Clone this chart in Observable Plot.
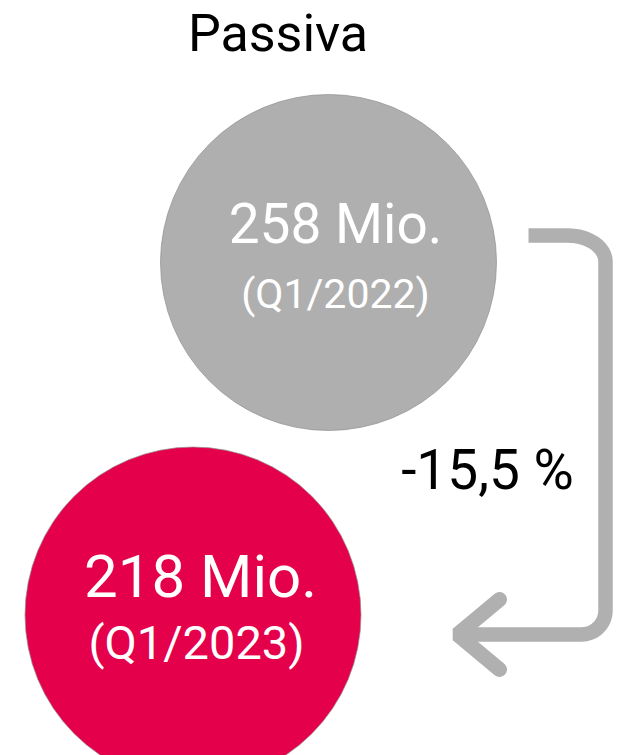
<!DOCTYPE html>
<html>
<head>
<meta charset="utf-8">
<script src="https://cdn.jsdelivr.net/npm/d3@7"></script>
<script src="https://cdn.jsdelivr.net/npm/@observablehq/plot@0.6"></script>
<style>
  html, body { margin: 0; padding: 0; background: #ffffff; }
  #chart svg { display: block; }
</style>
</head>
<body>
<div id="chart"></div>
<script>
// ---- data ----
const title = "Passiva";
const periods = ["Q1/2022", "Q1/2023"];
const values = [258, 218];
const unit = "Mio.";
const changeLabel = "-15,5 %";

// ---- styles ----
const fills = ["#afafaf", "#e5004b"];
const arrowColor = "#b0b0b0";

// ---- layout (page coordinates) ----
const circleX = [328, 192.5];
const circleY = [262, 614.5];
const circleR = 168;
const valueX = [335, 200];
const periodX = [335, 196];
const valueBaseline = [242, 596];
const valueSize = [55, 60];
const valueSpacing = [-0.7, -1.5];
const periodBaseline = [307, 658];
const periodSize = [41, 47];
const periodSpacing = [-0.6, -0.6];

const rows = periods.map((p, i) => ({
  period: p, value: values[i], fill: fills[i],
  cx: circleX[i], cy: circleY[i], vx: valueX[i], px: periodX[i]
}));

// arrow geometry: from right of the first circle, down, into the second
const arrow = {x0: 528, y0: 235, xv: 605, y1: 634, xTip: 457, rx1: 38, ry1: 26, r2: 24, armDx: 42, armDy: 35};
function quarter(cx, cy, rx, ry, a0, a1, n = 14) {
  const pts = [];
  for (let k = 0; k <= n; k++) {
    const a = a0 + (a1 - a0) * k / n;
    pts.push({x: cx + rx * Math.cos(a), y: cy + ry * Math.sin(a)});
  }
  return pts;
}
const A = arrow;
const shaft = [
  {x: A.x0, y: A.y0},
  ...quarter(A.xv - A.rx1, A.y0 + A.ry1, A.rx1, A.ry1, -Math.PI / 2, 0),
  ...quarter(A.xv - A.r2, A.y1 - A.r2, A.r2, A.r2, 0, Math.PI / 2),
  {x: A.xTip + 4, y: A.y1}
];
const head = [
  {x: A.xTip + A.armDx, y: A.y1 - A.armDy},
  {x: A.xTip, y: A.y1},
  {x: A.xTip + A.armDx, y: A.y1 + A.armDy}
];

const font = "Roboto, 'Noto Sans', sans-serif";
const marks = [
  Plot.line(shaft, {x: "x", y: "y", stroke: arrowColor, strokeWidth: 14.5, strokeLinecap: "butt", strokeLinejoin: "round"}),
  Plot.line(head, {x: "x", y: "y", stroke: arrowColor, strokeWidth: 15, strokeLinecap: "round", strokeLinejoin: "miter"}),
  Plot.dot(rows, {x: "cx", y: "cy", r: circleR, fill: "fill", stroke: "#8f8f8f", strokeWidth: 0.7}),
  Plot.text([title], {x: 277.5, y: 50, text: d => d, fontSize: 52, fill: "#000", lineAnchor: "bottom", fontFamily: font}),
  Plot.text([changeLabel], {x: 487, y: 488, text: d => d, fontSize: 55, fill: "#000", lineAnchor: "bottom", fontFamily: font, ariaLabel: "change"})
];
rows.forEach((r, i) => {
  marks.push(Plot.text([r], {x: "vx", y: () => valueBaseline[i], text: d => `${d.value} ${unit}`, fill: "#fff", fontSize: valueSize[i], lineAnchor: "bottom", fontFamily: font, ariaLabel: "value" + i}));
  marks.push(Plot.text([r], {x: "px", y: () => periodBaseline[i], text: d => `(${d.period})`, fill: "#fff", fontSize: periodSize[i], lineAnchor: "bottom", fontFamily: font, ariaLabel: "period" + i}));
});

const chart = Plot.plot({
  width: 621, height: 755, margin: 0,
  x: {domain: [0, 621], range: [0, 621], axis: null},
  y: {domain: [0, 755], range: [0, 755], axis: null},
  color: {type: "identity"},
  style: {background: "#ffffff", fontFamily: font, overflow: "hidden"},
  marks
});
document.getElementById("chart").appendChild(chart);
const svg = d3.select(chart);
rows.forEach((r, i) => {
  svg.selectAll(`g[aria-label="value${i}"] text`).attr("letter-spacing", valueSpacing[i]);
  svg.selectAll(`g[aria-label="period${i}"] text`).attr("letter-spacing", periodSpacing[i]);
});
svg.selectAll(`g[aria-label="change"] text`).attr("letter-spacing", -0.5);
</script>
</body>
</html>
